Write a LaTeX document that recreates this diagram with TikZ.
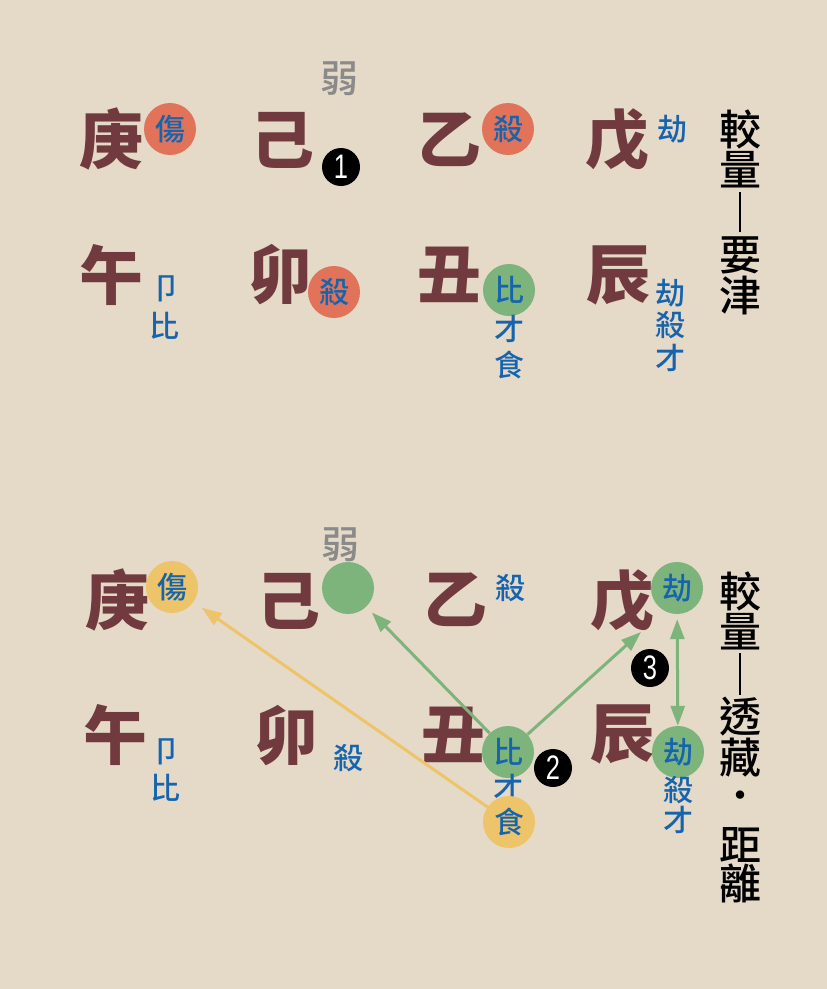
\documentclass[tikz,border=0pt]{standalone}
\usepackage{fontspec}
\newfontfamily\cjk{Noto Sans CJK TC}
\newfontfamily\cjkmid{Noto Sans CJK TC Medium}
\newfontfamily\numfont{Liberation Sans}
\usetikzlibrary{arrows.meta}

\definecolor{paper}{RGB}{229,217,199}
\definecolor{stemred}{RGB}{112,58,62}
\definecolor{godblue}{RGB}{22,100,174}
\definecolor{killred}{RGB}{225,115,90}
\definecolor{peergreen}{RGB}{124,180,124}
\definecolor{foodyellow}{RGB}{238,196,106}
\definecolor{weakgray}{RGB}{138,138,138}

\begin{document}
\begin{tikzpicture}[
    x=1pt, y=-1pt,
    stem/.style={font=\cjk\bfseries\fontsize{64}{64}\selectfont, text=stemred, inner sep=0pt},
    god/.style={font=\cjkmid\fontsize{30}{30}\selectfont, text=godblue, inner sep=0pt},
    disc/.style={god, circle, minimum size=52pt},
    weak/.style={font=\cjkmid\fontsize{38}{38}\selectfont, text=weakgray, inner sep=0pt},
    badge/.style={circle, fill=black, minimum size=38pt, inner sep=0pt, text=white, font=\numfont\fontsize{34}{34}\selectfont},
    heading/.style={font=\cjkmid\fontsize{42}{42}\selectfont, inner sep=0pt},
    arrow/.style={-{Triangle[length=20pt,width=14pt]}, line width=3pt},
    twoway/.style={{Triangle[length=20pt,width=14pt]}-{Triangle[length=20pt,width=14pt]}, line width=3pt}
]

\fill[paper] (0,0) rectangle (827,989);
\useasboundingbox (0,0) rectangle (827,989);

% upper chart
\node[stem] (gengA) at (111,139) {庚};
\node[stem] (jiA) at (282,140) {己};
\node[stem] (yiA) at (449,140) {乙};
\node[stem] (wuA) at (617,140) {戊};
\node[stem] (wumaA) at (111,275) {午};
\node[stem] (maoA) at (280,275) {卯};
\node[stem] (chouA) at (449,275) {丑};
\node[stem] (chenA) at (618,275) {辰};

\node[weak] (weakA) at (339,79) {弱};
\node[badge] (oneA) at (341,167) {\scalebox{0.75}[1]{1}};

\node[disc, fill=killred] (shangA) at (170,129) {傷};
\node[disc, fill=killred] (shaA) at (508,129) {殺};
\node[god] (jieA) at (672,129) {劫};
\node[god] (jieziA) at (166,289) {卩};
\node[god] (biwA) at (164,326) {比};
\node[disc, fill=killred] (shamA) at (334,292) {殺};
\node[disc, fill=peergreen] (biA) at (509,290) {比};
\node[god] (caiA) at (509,329) {才};
\node[god] (shiA) at (509,365) {食};
\node[god] (jiecA) at (670,293) {劫};
\node[god] (shacA) at (670,325) {殺};
\node[god] (caicA) at (670,358) {才};

\node[heading] (jiaoA) at (740,129) {較};
\node[heading] (liangA) at (740,170) {量};
\node[heading] (yaoA) at (740,255) {要};
\node[heading] (jinA) at (740,296) {津};
\coordinate (dashtopA) at (740,192);
\coordinate (dashbotA) at (740,232);
\draw[line width=1.2pt] (dashtopA) -- (dashbotA);

% lower chart
\node[stem] (gengB) at (117,600) {庚};
\node[stem] (jiB) at (288,601) {己};
\node[stem] (yiB) at (455,600) {乙};
\node[stem] (wuB) at (622,601) {戊};
\node[stem] (wumaB) at (115,735) {午};
\node[stem] (maoB) at (286,736) {卯};
\node[stem] (chouB) at (453,735) {丑};
\node[stem] (chenB) at (622,734) {辰};

\node[weak] (weakB) at (340,545) {弱};

\node[disc, fill=foodyellow] (shangB) at (172,587) {傷};
\node[disc, fill=peergreen] (jidiscB) at (348,588) {};
\node[god] (shaB) at (510,588) {殺};
\node[disc, fill=peergreen] (jieB) at (677,588) {劫};
\node[god] (jieziB) at (166,752) {卩};
\node[god] (biwB) at (165,788) {比};
\node[god] (shamB) at (348,758) {殺};
\node[disc, fill=peergreen] (biB) at (508,752) {比};
\node[god] (caiB) at (508,788) {才};
\node[disc, fill=foodyellow] (shiB) at (509,822) {食};
\node[disc, fill=peergreen] (jiecB) at (678,752) {劫};
\node[god] (shacB) at (678,790) {殺};
\node[god] (caicB) at (678,820) {才};

\node[badge] (twoB) at (553,768) {\scalebox{0.75}[1]{2}};
\node[badge] (threeB) at (650,668) {\scalebox{0.75}[1]{3}};

\node[heading] (jiaoB) at (740,591) {較};
\node[heading] (liangB) at (740,632) {量};
\node[heading] (touB) at (740,717) {透};
\node[heading] (cangB) at (740,758) {藏};
\node[heading, font=\cjk\bfseries\fontsize{30}{30}\selectfont] (dotB) at (740,799) {・};
\node[heading] (juB) at (740,845) {距};
\node[heading] (liB) at (740,883) {離};
\coordinate (dashtopB) at (740,653);
\coordinate (dashbotB) at (740,695);
\draw[line width=1.2pt] (dashtopB) -- (dashbotB);

\coordinate (wuinB) at (641,632);
\draw[arrow, foodyellow, shorten >=10pt] (shiB) -- (shangB);
\draw[arrow, peergreen, shorten >=8pt] (biB) -- (jidiscB);
\draw[arrow, peergreen] (biB) -- (wuinB);
\draw[twoway, peergreen, shorten <=5pt] (jieB) -- (jiecB);

\end{tikzpicture}
\end{document}
